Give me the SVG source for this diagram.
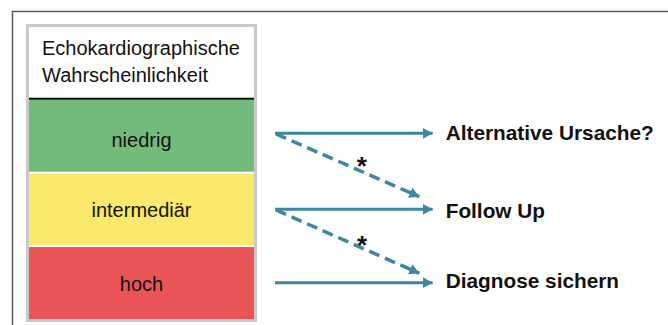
<svg xmlns="http://www.w3.org/2000/svg" width="668" height="325" viewBox="0 0 668 325">
<style>
.lbl{font-family:"Liberation Sans",Arial,sans-serif;font-size:20px;fill:#111;text-anchor:middle}
.lft{text-anchor:start}
.out{font-family:"Liberation Sans",Arial,sans-serif;font-size:20.8px;font-weight:bold;fill:#111}
.ast{font-family:"Liberation Sans",Arial,sans-serif;font-size:26px;font-weight:bold;fill:#111;text-anchor:middle}
.solid{stroke:#3f86a5;stroke-width:3;fill:none;marker-end:url(#ah)}
.dash{stroke:#3f86a5;stroke-width:3.5;fill:none;stroke-dasharray:11 6;marker-end:url(#ah)}
</style>
<defs>
<marker id="ah" viewBox="0 0 10 11" refX="10" refY="5.5" markerWidth="10" markerHeight="11" markerUnits="userSpaceOnUse" orient="auto">
<path d="M0,0 L10,5.5 L0,11 Z" fill="#3f86a5"/>
</marker>
</defs>
<rect width="668" height="325" fill="#fff"/>
<path d="M12.5,325 V11.5 H668" fill="none" stroke="#5a5a5a" stroke-width="1.5"/>
<g id="table">
<rect x="27.5" y="25.5" width="228" height="295" fill="#fff" stroke="#c9c9c9" stroke-width="3"/>
<g id="header">
<text class="lbl lft" x="42" y="55">Echokardiographische</text>
<text class="lbl lft" x="42" y="81.7">Wahrscheinlichkeit</text>
<line x1="29" y1="98.7" x2="254" y2="98.7" stroke="#000" stroke-width="2"/>
</g>
<g id="niedrig">
<rect x="29" y="100" width="225" height="71.7" fill="#72bb7b"/>
<text class="lbl" x="141.5" y="146.7">niedrig</text>
</g>
<g id="intermediaer">
<rect x="29" y="173.5" width="225" height="71.7" fill="#fae96a"/>
<text class="lbl" x="141.5" y="217.3">intermediär</text>
</g>
<g id="hoch">
<rect x="29" y="247" width="225" height="72" fill="#e95457"/>
<text class="lbl" x="141.5" y="290.7">hoch</text>
</g>
</g>
<g id="connectors">
<line class="solid" x1="275" y1="133.3" x2="432.7" y2="133.3"/>
<line class="solid" x1="275" y1="209.3" x2="432.7" y2="209.3"/>
<line class="solid" x1="275" y1="282.7" x2="432.7" y2="282.7"/>
<line class="dash" x1="276" y1="134" x2="419.3" y2="196.7"/>
<line class="dash" x1="276" y1="210" x2="419.3" y2="273.3"/>
<text class="ast" x="361.7" y="175">*</text>
<text class="ast" x="362" y="253.5">*</text>
</g>
<g id="alt"><text class="out" x="445.7" y="140">Alternative Ursache?</text></g>
<g id="follow"><text class="out" x="445.7" y="218.3">Follow Up</text></g>
<g id="diag"><text class="out" x="445.7" y="288.3">Diagnose sichern</text></g>
</svg>
